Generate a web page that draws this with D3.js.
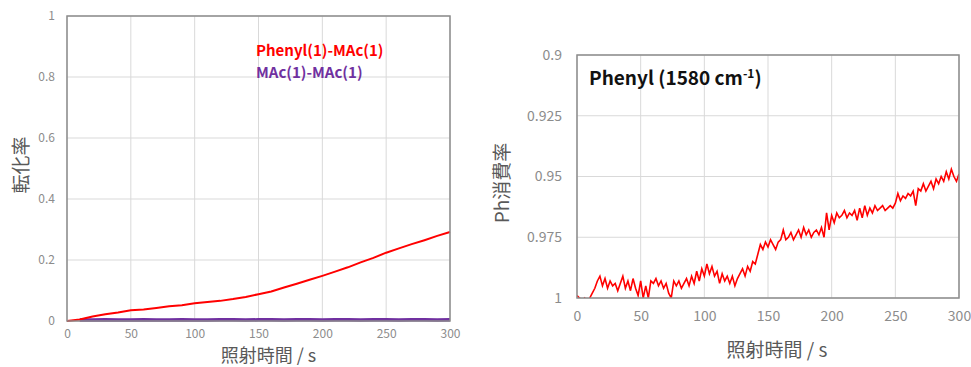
<!DOCTYPE html>
<html>
<head>
<meta charset="utf-8">
<script src="https://cdn.jsdelivr.net/npm/d3@7"></script>
<style>
  body { margin: 0; background: #fff; }
  svg { display: block; font-family: "Noto Sans CJK JP", "Noto Sans", sans-serif; }
</style>
</head>
<body>
<svg id="chart" width="971" height="367"></svg>
<script>
// left panel: conversion vs time
const convTime = [0, 10, 20, 30, 40, 50, 60, 70, 80, 90, 100, 110, 120, 130, 140, 150,
	160, 170, 180, 190, 200, 210, 220, 230, 240, 250, 260, 270, 280, 290, 300];
const phenylConv = [0, 0.005, 0.015, 0.022, 0.028, 0.035, 0.038, 0.043, 0.048, 0.052, 0.058,
	0.062, 0.066, 0.072, 0.079, 0.088, 0.097, 0.11, 0.122, 0.135, 0.148, 0.162, 0.176,
	0.192, 0.207, 0.224, 0.238, 0.252, 0.265, 0.279, 0.292];
const macConv = [null, 0.003, 0.003, 0.004, 0.003, 0.003, 0.004, 0.003, 0.003, 0.004, 0.003,
	0.003, 0.004, 0.004, 0.003, 0.004, 0.004, 0.003, 0.004, 0.004, 0.003, 0.004, 0.004,
	0.003, 0.004, 0.004, 0.003, 0.004, 0.004, 0.003, 0.004];
const seriesNames = ['Phenyl(1)-MAc(1)', 'MAc(1)-MAc(1)'];

// right panel: Ph consumption ratio, every 2 s
const phTime = d3.range(0, 301, 2);
const phRatio = [
	0.999, 1.0, 1.001, 1.0, 1.002, 1.0, 0.998, 0.996, 0.993, 0.991,
	0.995, 0.992, 0.996, 0.993, 0.995, 0.994, 0.997, 0.994, 0.991, 0.996,
	0.993, 0.997, 0.992, 0.996, 0.999, 0.993, 1.0, 0.995, 1.0, 0.993,
	0.994, 0.992, 0.995, 0.993, 0.996, 0.994, 0.998, 1.0, 0.993, 0.995,
	0.993, 0.996, 0.994, 0.992, 0.995, 0.991, 0.994, 0.989, 0.993, 0.988,
	0.991, 0.986, 0.990, 0.987, 0.991, 0.989, 0.994, 0.990, 0.993, 0.991,
	0.994, 0.991, 0.995, 0.992, 0.990, 0.988, 0.991, 0.987, 0.989, 0.985,
	0.986, 0.982, 0.978, 0.980, 0.977, 0.979, 0.976, 0.978, 0.980, 0.977,
	0.976, 0.972, 0.976, 0.975, 0.973, 0.976, 0.974, 0.972, 0.975, 0.971,
	0.974, 0.972, 0.975, 0.973, 0.972, 0.974, 0.971, 0.975, 0.965, 0.972,
	0.966, 0.969, 0.965, 0.967, 0.966, 0.964, 0.967, 0.965, 0.966, 0.964,
	0.968, 0.963, 0.967, 0.962, 0.966, 0.963, 0.965, 0.962, 0.964, 0.963,
	0.962, 0.964, 0.963, 0.962, 0.963, 0.961, 0.957, 0.960, 0.958, 0.959,
	0.957, 0.958, 0.956, 0.962, 0.955, 0.956, 0.953, 0.956, 0.954, 0.952,
	0.955, 0.951, 0.953, 0.950, 0.952, 0.948, 0.951, 0.947, 0.950, 0.952,
	0.949
];

const xTicks = [0, 50, 100, 150, 200, 250, 300];
const convTicks = [0, 0.2, 0.4, 0.6, 0.8, 1];
const phTicks = [0.9, 0.925, 0.95, 0.975, 1];

const svg = d3.select('#chart');
const gridColor = '#d9d9d9';
const frameColor = '#8c8c8c';
const tickColor = '#8c8c8c';
const titleColor = '#595959';

const drawPanel = (opts) => {
	const { left, right, top, bottom, x, y, yTicks, yFormat, id } = opts;
	const g = svg.append('g');

	svg.append('defs').append('clipPath').attr('id', id)
		.append('rect').attr('x', left).attr('y', top)
		.attr('width', right - left).attr('height', bottom - top);

	// grid
	g.append('g').selectAll('line.v').data(xTicks).enter().append('line')
		.attr('x1', d => x(d)).attr('x2', d => x(d))
		.attr('y1', top).attr('y2', bottom)
		.attr('stroke', gridColor).attr('stroke-width', 1);
	g.append('g').selectAll('line.h').data(yTicks).enter().append('line')
		.attr('x1', left).attr('x2', right)
		.attr('y1', d => y(d)).attr('y2', d => y(d))
		.attr('stroke', gridColor).attr('stroke-width', 1);

	// tick labels via axes
	const xAxis = g.append('g').attr('transform', `translate(0,${bottom})`)
		.call(d3.axisBottom(x).tickValues(xTicks).tickSize(0).tickPadding(opts.xPad));
	const yAxis = g.append('g').attr('transform', `translate(${left},0)`)
		.call(d3.axisLeft(y).tickValues(yTicks).tickFormat(yFormat).tickSize(0).tickPadding(opts.yPad));
	[xAxis, yAxis].forEach(a => {
		a.select('.domain').remove();
		a.selectAll('text').attr('fill', tickColor)
			.style('font-size', opts.tickSize + 'px')
			.style('font-family', '"Noto Sans CJK JP", sans-serif');
	});

	return g;
};

// ---- left panel ----
const L = { left: 67, right: 450, top: 16, bottom: 321 };
const xL = d3.scaleLinear().domain([0, 300]).range([L.left, L.right]);
const yL = d3.scaleLinear().domain([0, 1]).range([L.bottom, L.top]);
const gL = drawPanel({ ...L, x: xL, y: yL, yTicks: convTicks, yFormat: d3.format('~g'),
	id: 'clipL', xPad: 8, yPad: 12, tickSize: 12 });

const lineL = d3.line().defined(d => d[1] != null).x(d => xL(d[0])).y(d => yL(d[1]));
gL.append('path').datum(convTime.map((t, i) => [t, macConv[i]]))
	.attr('d', lineL).attr('fill', 'none').attr('stroke', '#7030a0').attr('stroke-width', 3.5);
gL.append('path').datum(convTime.map((t, i) => [t, phenylConv[i]]))
	.attr('d', lineL).attr('fill', 'none').attr('stroke', '#ff0000').attr('stroke-width', 2);

gL.append('rect').attr('x', L.left).attr('y', L.top)
	.attr('width', L.right - L.left).attr('height', L.bottom - L.top)
	.attr('fill', 'none').attr('stroke', frameColor).attr('stroke-width', 1.5);

gL.selectAll('text.legend').data(seriesNames).enter().append('text')
	.attr('x', 256).attr('y', (d, i) => 56 + i * 22)
	.attr('fill', (d, i) => i === 0 ? '#ff0000' : '#7030a0')
	.attr('font-weight', 'bold').attr('font-size', 15)
	.text(d => d);

gL.append('text').attr('x', (L.left + L.right) / 2 + 10).attr('y', 362)
	.attr('text-anchor', 'middle').attr('fill', titleColor).attr('font-size', 18)
	.text('照射時間 / s');
gL.append('text').attr('transform', 'translate(28,165) rotate(-90)')
	.attr('text-anchor', 'middle').attr('fill', titleColor).attr('font-size', 19)
	.text('転化率');

// ---- right panel ----
const R = { left: 577, right: 959, top: 55, bottom: 298 };
const xR = d3.scaleLinear().domain([0, 300]).range([R.left, R.right]);
const yR = d3.scaleLinear().domain([0.9, 1]).range([R.top, R.bottom]);
const gR = drawPanel({ ...R, x: xR, y: yR, yTicks: phTicks, yFormat: d3.format('~g'),
	id: 'clipR', xPad: 13, yPad: 15, tickSize: 14 });

const lineR = d3.line().x(d => xR(d[0])).y(d => yR(d[1]));
gR.append('path').datum(phTime.map((t, i) => [t, phRatio[i]]))
	.attr('clip-path', 'url(#clipR)')
	.attr('d', lineR).attr('fill', 'none').attr('stroke', '#ff0000').attr('stroke-width', 1.6);

gR.append('rect').attr('x', R.left).attr('y', R.top)
	.attr('width', R.right - R.left).attr('height', R.bottom - R.top)
	.attr('fill', 'none').attr('stroke', frameColor).attr('stroke-width', 1.5);

const title = gR.append('text').attr('x', 589).attr('y', 85)
	.attr('fill', '#111').attr('font-weight', 'bold').attr('font-size', 19);
title.append('tspan').text('Phenyl (1580 cm');
title.append('tspan').attr('dy', -7).attr('font-size', 12).text('-1');
title.append('tspan').attr('dy', 7).text(')');

gR.append('text').attr('x', 777).attr('y', 357)
	.attr('text-anchor', 'middle').attr('fill', titleColor).attr('font-size', 19)
	.text('照射時間 / s');
gR.append('text').attr('transform', 'translate(509,183) rotate(-90)')
	.attr('text-anchor', 'middle').attr('fill', titleColor).attr('font-size', 19)
	.text('Ph消費率');
</script>
</body>
</html>
